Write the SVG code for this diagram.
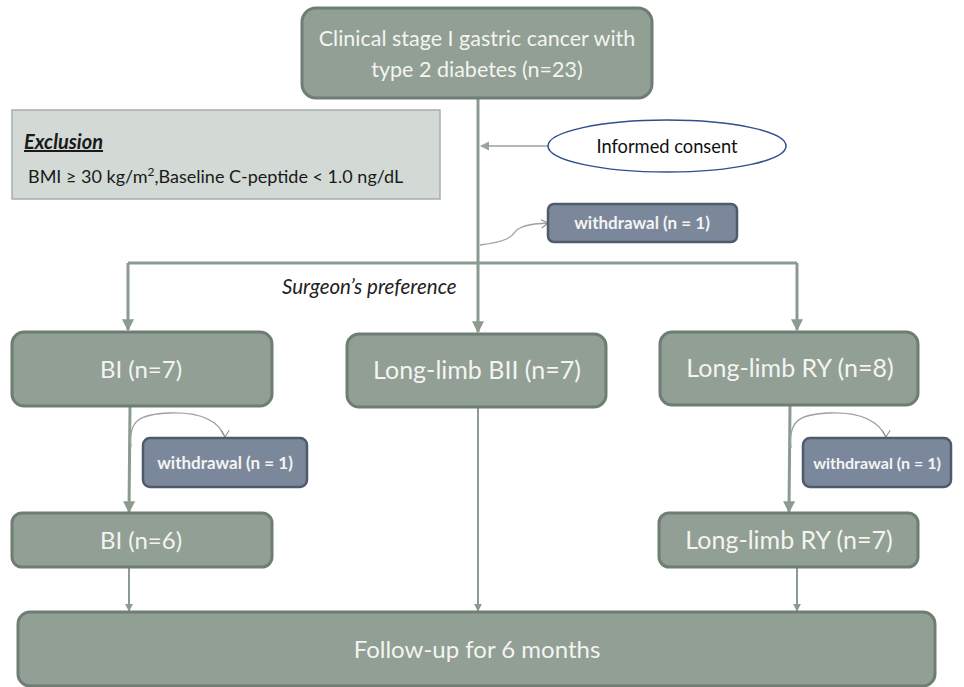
<svg xmlns="http://www.w3.org/2000/svg" width="964" height="687" viewBox="0 0 964 687">
<defs>
<style>
.box{fill:#919f95;stroke:#6f7e74;stroke-width:3}
.wd{fill:#7b889b;stroke:#4f5a6b;stroke-width:2.5}
.t{font-family:Lato,"Open Sans",sans-serif;fill:#f4f4f0;text-anchor:middle}
.wt{font-family:Lato,"Open Sans",sans-serif;fill:#f4f4f4;font-weight:bold;font-size:17px;text-anchor:middle}
.ln{stroke:#8b9b90;stroke-width:3;fill:none}
.thin{stroke:#9aa39e;stroke-width:1.3;fill:none}
</style>
<marker id="ah" viewBox="0 0 10 10" refX="9" refY="5" markerWidth="4" markerHeight="4" orient="auto"><path d="M0,0 L10,5 L0,10 z" fill="#8b9b90"/></marker>
<marker id="ahs" viewBox="0 0 10 10" refX="9" refY="5" markerWidth="7" markerHeight="7" orient="auto"><path d="M0,0 L10,5 L0,10 z" fill="#9aa39e"/></marker>
<marker id="ahv" viewBox="0 0 12 12" refX="6" refY="11" markerWidth="10" markerHeight="10" orient="0" markerUnits="userSpaceOnUse"><path d="M1,3 L6,11 L11,3" fill="none" stroke="#8a938e" stroke-width="1.3"/></marker>
<marker id="aho" viewBox="0 0 12 12" refX="11" refY="6" markerWidth="10" markerHeight="10" orient="auto" markerUnits="userSpaceOnUse"><path d="M3,1 L11,6 L3,11" fill="none" stroke="#8a938e" stroke-width="1.3"/></marker>
</defs>

<g id="connectors">
<path class="ln" d="M478,98 V332" marker-end="url(#ah)"/>
<path class="ln" d="M128,263 H797"/>
<path class="ln" d="M128,263 V330" marker-end="url(#ah)"/>
<path class="ln" d="M797,263 V330" marker-end="url(#ah)"/>
<path class="thin" d="M548,146 H481" marker-end="url(#ahs)"/>
<path class="thin" d="M480,245 C520,240 510,232 520,228 C530,223 540,224 548,223" marker-end="url(#aho)"/>
<path class="ln" d="M130,406 L129,512" marker-end="url(#ah)"/>
<path class="thin" d="M131,447 C128,420 140,414 170,413 C200,412 218,420 225,437" marker-end="url(#ahv)"/>
<path class="ln" d="M790,405 L789,512" marker-end="url(#ah)"/>
<path class="thin" d="M791,448 C788,420 800,414 830,413 C860,412 878,420 886,437" marker-end="url(#ahv)"/>
<path class="ln" d="M129,567 V611" marker-end="url(#ah)" style="stroke-width:2"/>
<path class="ln" d="M478,407 V611" marker-end="url(#ah)" style="stroke-width:2"/>
<path class="ln" d="M797,567 V611" marker-end="url(#ah)" style="stroke-width:2"/>
</g>

<g id="n-start">
<rect class="box" x="302" y="8" width="350" height="90" rx="14"/>
<text class="t" font-size="21.5" x="477" y="46">Clinical stage I gastric cancer with</text>
<text class="t" font-size="21.5" x="477" y="77">type 2 diabetes (n=23)</text>
</g>

<g id="n-exclusion">
<rect x="12" y="110" width="428" height="89" fill="#d3d9d5" stroke="#a9afab" stroke-width="1.5"/>
<text x="24" y="149" font-family="Lato,'Open Sans',sans-serif" font-size="20" font-weight="bold" font-style="italic" text-decoration="underline" fill="#1a1a1a">Exclusion</text>
<text x="28" y="183" font-family="Lato,'Open Sans',sans-serif" font-size="18" fill="#1a1a1a">BMI ≥ 30 kg/m<tspan font-size="12" dy="-7">2</tspan><tspan dy="7">,Baseline C-peptide &lt; 1.0 ng/dL</tspan></text>
</g>

<g id="n-consent">
<ellipse cx="667" cy="146" rx="119" ry="26" fill="#fff" stroke="#2f4f8f" stroke-width="1.5"/>
<text x="667" y="153" font-family="Lato,'Open Sans',sans-serif" font-size="18.3" fill="#111" text-anchor="middle">Informed consent</text>
</g>

<g id="n-wd1">
<rect class="wd" x="548" y="204" width="189" height="38" rx="6"/>
<text class="wt" x="642" y="229" font-size="18">withdrawal (n = 1)</text>
</g>

<g id="label-pref">
<text x="282" y="294" font-family="Lato,'Open Sans',sans-serif" font-size="20.5" font-style="italic" fill="#222">Surgeon’s preference</text>
</g>

<g id="n-bi7">
<rect class="box" x="12" y="332" width="260" height="74" rx="12"/>
<text class="t" font-size="24" x="141" y="378">BI (n=7)</text>
</g>

<g id="n-bii7">
<rect class="box" x="347" y="334" width="259" height="73" rx="12"/>
<text class="t" font-size="25" x="477" y="379">Long-limb BII (n=7)</text>
</g>

<g id="n-ry8">
<rect class="box" x="660" y="332" width="258" height="73" rx="12"/>
<text class="t" font-size="25" x="790" y="377">Long-limb RY (n=8)</text>
</g>

<g id="n-wd2">
<rect class="wd" x="143" y="438" width="164" height="49" rx="7"/>
<text class="wt" x="225" y="469">withdrawal (n = 1)</text>
</g>

<g id="n-wd3">
<rect class="wd" x="803" y="438" width="148" height="49" rx="7"/>
<text class="wt" x="877" y="469" style="font-size:16px">withdrawal (n = 1)</text>
</g>

<g id="n-bi6">
<rect class="box" x="12" y="513" width="260" height="54" rx="10"/>
<text class="t" font-size="24" x="141" y="549">BI (n=6)</text>
</g>

<g id="n-ry7">
<rect class="box" x="659" y="513" width="259" height="54" rx="10"/>
<text class="t" font-size="25" x="789" y="549">Long-limb RY (n=7)</text>
</g>

<g id="n-follow">
<rect class="box" x="18" y="612" width="917" height="74" rx="12"/>
<text class="t" font-size="24" x="477" y="658">Follow-up for 6 months</text>
</g>
</svg>
